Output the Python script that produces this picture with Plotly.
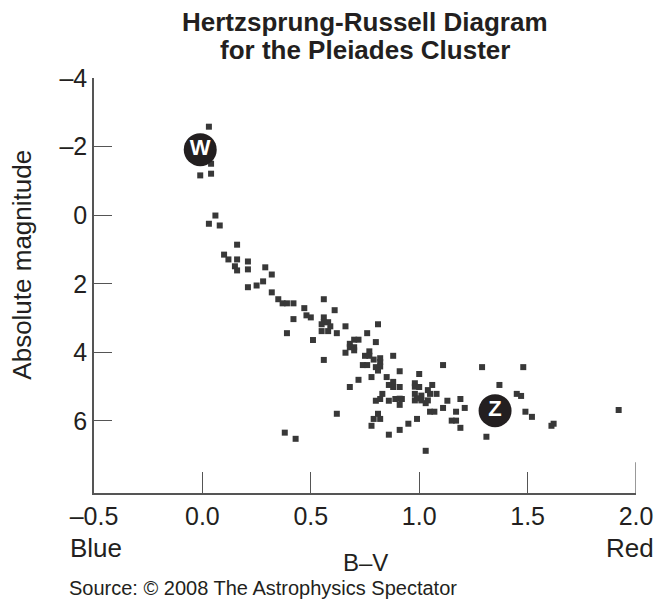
import plotly.graph_objects as go

# Pleiades cluster stars: B-V colour index and absolute magnitude
bv = [0.03, 0.04, 0.04, -0.01, 0.06, 0.03, 0.08, 0.16, 0.10, 0.12,
      0.16, 0.21, 0.15, 0.16, 0.21, 0.29, 0.32, 0.28, 0.25, 0.21,
      0.32, 0.35, 0.37, 0.39, 0.42, 0.47, 0.56, 0.61, 0.48, 0.50,
      0.42, 0.56, 0.56, 0.55, 0.58, 0.59, 0.55, 0.58, 0.66, 0.81,
      0.39, 0.62, 0.76, 0.51, 0.70, 0.72, 0.68, 0.68, 0.70, 0.70,
      0.80, 0.66, 0.77, 0.77, 0.75, 0.88, 0.79, 0.56, 0.82, 0.82,
      0.82, 0.80, 0.81, 0.74, 0.76, 0.91, 1.11, 1.29, 1.48, 1.00,
      0.72, 0.78, 0.85, 0.68, 0.88, 0.88, 0.86, 0.91, 0.98, 0.98,
      1.00, 1.06, 1.04, 1.37, 0.83, 0.98, 1.01, 1.05, 1.08, 0.80,
      0.82, 0.86, 0.89, 0.91, 0.92, 0.98, 0.99, 1.01, 1.03, 1.04,
      0.91, 1.13, 1.19, 1.11, 1.21, 1.05, 1.07, 1.17, 1.45, 1.47,
      1.49, 1.52, 0.62, 0.81, 0.79, 0.82, 0.99, 1.15, 1.17, 0.95,
      0.78, 1.19, 0.91, 0.38, 0.43, 0.86, 1.03, 1.31, 1.62, 1.61,
      1.92]
mag = [-2.58, -1.50, -1.21, -1.16, 0.01, 0.25, 0.30, 0.86, 1.15, 1.29,
       1.29, 1.35, 1.49, 1.61, 1.58, 1.52, 1.73, 1.93, 2.05, 2.10,
       2.25, 2.45, 2.57, 2.57, 2.57, 2.71, 2.45, 2.77, 2.92, 2.98,
       3.03, 2.98, 3.12, 3.18, 3.12, 3.24, 3.38, 3.38, 3.24, 3.18,
       3.44, 3.44, 3.44, 3.64, 3.63, 3.63, 3.75, 3.85, 3.85, 3.94,
       3.70, 4.01, 3.97, 4.10, 4.10, 4.10, 4.21, 4.22, 4.17, 4.28,
       4.41, 4.43, 4.53, 4.37, 4.37, 4.55, 4.37, 4.43, 4.43, 4.63,
       4.80, 4.72, 4.72, 5.01, 4.86, 5.01, 4.95, 5.01, 4.90, 5.00,
       5.01, 4.95, 5.10, 4.95, 5.21, 5.21, 5.26, 5.21, 5.21, 5.41,
       5.36, 5.41, 5.36, 5.35, 5.36, 5.40, 5.34, 5.40, 5.48, 5.40,
       5.53, 5.41, 5.36, 5.62, 5.62, 5.73, 5.73, 5.73, 5.21, 5.27,
       5.73, 5.88, 5.79, 5.79, 5.94, 5.94, 5.94, 5.99, 5.99, 6.08,
       6.14, 6.20, 6.26, 6.34, 6.52, 6.40, 6.87, 6.46, 6.08, 6.14,
       5.68]

# Labelled stars
label_text = ["W", "Z"]
label_bv = [-0.01, 1.35]
label_mag = [-1.91, 5.70]

x_tickvals = [-0.5, 0.0, 0.5, 1.0, 1.5, 2.0]
x_ticktext = ["\u20130.5", "0.0", "0.5", "1.0", "1.5", "2.0"]
y_tickvals = [-4, -2, 0, 2, 4, 6]
y_ticktext = ["\u20134", "\u20132", "0", "2", "4", "6"]

FONT = "Liberation Sans, Arial, Helvetica, sans-serif"
INK = "#231f20"
AXIS = "#555555"

fig = go.Figure()
fig.add_trace(go.Scatter(
    x=bv, y=mag, mode="markers",
    marker=dict(symbol="square", size=6, color="#383838", line=dict(width=0)),
    hoverinfo="x+y", showlegend=False,
))
fig.add_trace(go.Scatter(
    x=label_bv, y=label_mag, mode="markers+text",
    text=label_text, textposition="middle center",
    textfont=dict(family=FONT, size=22, color="white", weight="bold"),
    marker=dict(symbol="circle", size=33, color=INK, line=dict(width=0)),
    hoverinfo="skip", showlegend=False,
))

# the page adds an 8px body margin, so the figure is 8px smaller than the window
fig.update_layout(
    width=656, height=593,
    margin=dict(l=86, r=28, t=70, b=108),
    paper_bgcolor="white", plot_bgcolor="white",
    font=dict(family=FONT, size=25, color=INK),
    showlegend=False,
)
fig.update_xaxes(
    range=[-0.5, 2.0], tickvals=x_tickvals, ticktext=x_ticktext,
    showgrid=False, zeroline=False,
    showline=True, linecolor=AXIS, linewidth=1.5,
    ticks="inside", ticklen=21, tickwidth=1.2, tickcolor=AXIS,
    tickfont=dict(family=FONT, size=25, color=INK),
)
fig.update_yaxes(
    range=[8.1, -4], tickvals=y_tickvals, ticktext=y_ticktext,
    showgrid=False, zeroline=False,
    showline=True, linecolor=AXIS, linewidth=1.5,
    ticks="inside", ticklen=18, tickwidth=1.2, tickcolor=AXIS,
    tickfont=dict(family=FONT, size=25, color=INK),
)

# longer end tick at the right of the x-axis
fig.add_shape(type="line", xref="x", yref="y", x0=2.0, x1=2.0, y0=8.1, y1=7.2,
              line=dict(color=AXIS, width=1.2))

fig.add_annotation(text="<b>Hertzsprung-Russell Diagram</b>",
                   xref="paper", yref="paper", x=0.5, y=1.135, xanchor="center", yanchor="middle",
                   showarrow=False, font=dict(family=FONT, size=26, color=INK))
fig.add_annotation(text="<b>for the Pleiades Cluster</b>",
                   xref="paper", yref="paper", x=0.5, y=1.0675, xanchor="center", yanchor="middle",
                   showarrow=False, font=dict(family=FONT, size=26, color=INK))
fig.add_annotation(text="Absolute magnitude", textangle=-90,
                   xref="paper", yref="paper", x=-0.133, y=0.55, xanchor="center", yanchor="middle",
                   showarrow=False, font=dict(family=FONT, size=26, color=INK))
fig.add_annotation(text="Blue", xref="paper", yref="paper", x=-0.048, y=-0.1325,
                   xanchor="left", yanchor="middle", showarrow=False,
                   font=dict(family=FONT, size=26, color=INK))
fig.add_annotation(text="Red", xref="paper", yref="paper", x=1.036, y=-0.1325,
                   xanchor="right", yanchor="middle", showarrow=False,
                   font=dict(family=FONT, size=26, color=INK))
fig.add_annotation(text="B\u2013V", xref="paper", yref="paper", x=0.5, y=-0.168,
                   xanchor="center", yanchor="middle", showarrow=False, borderpad=0,
                   font=dict(family=FONT, size=24, color=INK))
fig.add_annotation(text="Source: \u00a9 2008 The Astrophysics Spectator", xref="paper", yref="paper",
                   x=-0.048, y=-0.228, xanchor="left", yanchor="middle", showarrow=False, borderpad=0,
                   font=dict(family=FONT, size=20, color=INK))

fig.write_html("out.html")
